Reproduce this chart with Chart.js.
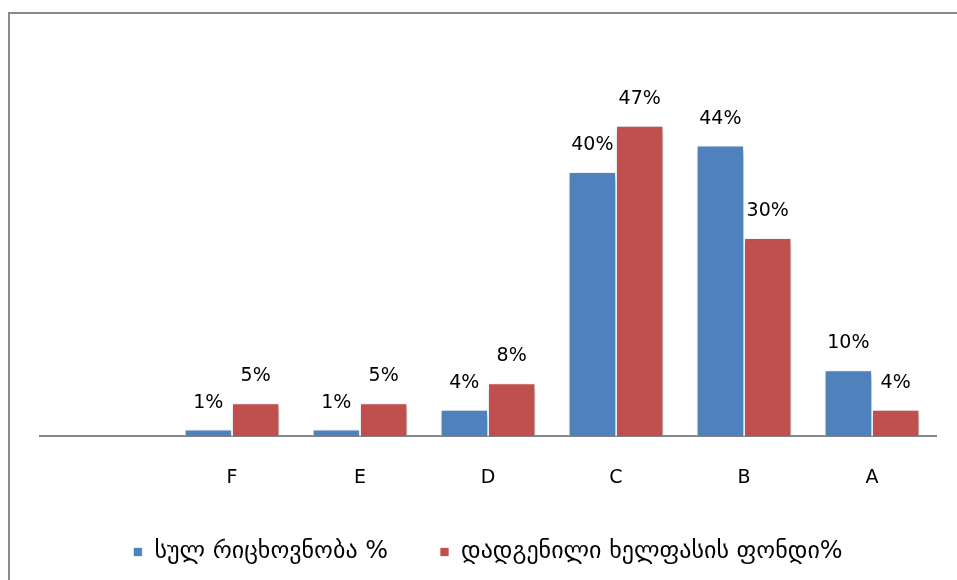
<!DOCTYPE html>
<html>
<head>
<meta charset="utf-8">
<script src="https://cdn.jsdelivr.net/npm/chart.js@4"></script>
<style>
  html, body { margin: 0; padding: 0; background: #fff; overflow: hidden; }
  #frame {
    position: absolute; left: 8px; top: 12px; width: 1000px; height: 620px;
    border-left: 2px solid #8a8a8a; border-top: 2px solid #8a8a8a;
  }
  #wrap { position: absolute; left: 0; top: 0; width: 957px; height: 580px; }
</style>
</head>
<body>
<div id="frame"></div>
<div id="wrap"><canvas id="myChart" width="957" height="580"></canvas></div>
<script>
    // grades, first slot left empty on purpose
    var categories = ['', 'F', 'E', 'D', 'C', 'B', 'A'];
    var totalShare = [null, 1, 1, 4, 40, 44, 10];      // სულ რიცხოვნობა %
    var wageFundShare = [null, 5, 5, 8, 47, 30, 4];    // დადგენილი ხელფასის ფონდი%
    var seriesNames = ['სულ რიცხოვნობა %', 'დადგენილი ხელფასის ფონდი%'];

    var numFont = { family: 'DejaVu Sans', size: 19 };

    // soft drop shadow under the bars
    var barShadow = {
      id: 'barShadow',
      beforeDatasetsDraw: function (chart) {
        var c = chart.ctx;
        c.save();
        c.shadowColor = 'rgba(0,0,0,0.35)';
        c.shadowBlur = 7;
        c.shadowOffsetX = 2;
        c.shadowOffsetY = 3;
      },
      afterDatasetsDraw: function (chart) {
        chart.ctx.restore();
      }
    };

    // percent labels above each bar
    var valueLabels = {
      id: 'valueLabels',
      afterDraw: function (chart) {
        var c = chart.ctx;
        c.save();
        c.font = numFont.size + 'px ' + numFont.family;
        c.fillStyle = '#000';
        c.textAlign = 'center';
        c.textBaseline = 'middle';
        chart.data.datasets.forEach(function (ds, i) {
          chart.getDatasetMeta(i).data.forEach(function (bar, j) {
            if (ds.data[j] == null) return;
            c.fillText(ds.data[j] + '%', bar.x, bar.y - 27);
          });
        });
        c.restore();
      }
    };

    var ctx = document.getElementById('myChart').getContext('2d');
    var myChart = new Chart(ctx, {
      type: 'bar',
      data: {
        labels: categories,
        datasets: [{
          label: seriesNames[0],
          data: totalShare,
          backgroundColor: '#4F81BD',
          borderColor: 'rgba(255,255,255,0.7)',
          borderWidth: 1
        }, {
          label: seriesNames[1],
          data: wageFundShare,
          backgroundColor: '#C0504D',
          borderColor: 'rgba(255,255,255,0.7)',
          borderWidth: 1
        }]
      },
      options: {
        responsive: false,
        animation: false,
        layout: { padding: { left: 40, right: 21, top: 106, bottom: 6 } },
        datasets: { bar: { categoryPercentage: 0.74, barPercentage: 1.0 } },
        scales: {
          x: {
            grid: { display: false, drawTicks: false },
            border: { display: true, color: '#868686', width: 2 },
            ticks: { color: '#000', font: numFont, padding: 30 },
            // leave a gap between the category row and the legend
            afterFit: function (scale) { scale.height -= 31; }
          },
          y: {
            display: false,
            min: 0,
            max: 50
          }
        },
        plugins: {
          legend: {
            position: 'bottom',
            labels: {
              color: '#000',
              boxWidth: 9,
              boxHeight: 9,
              padding: 52,
              font: { family: "'DejaVu Sans', sans-serif", size: 24 }
            }
          },
          tooltip: { enabled: false }
        }
      },
      plugins: [barShadow, valueLabels]
    });
</script>
</body>
</html>
